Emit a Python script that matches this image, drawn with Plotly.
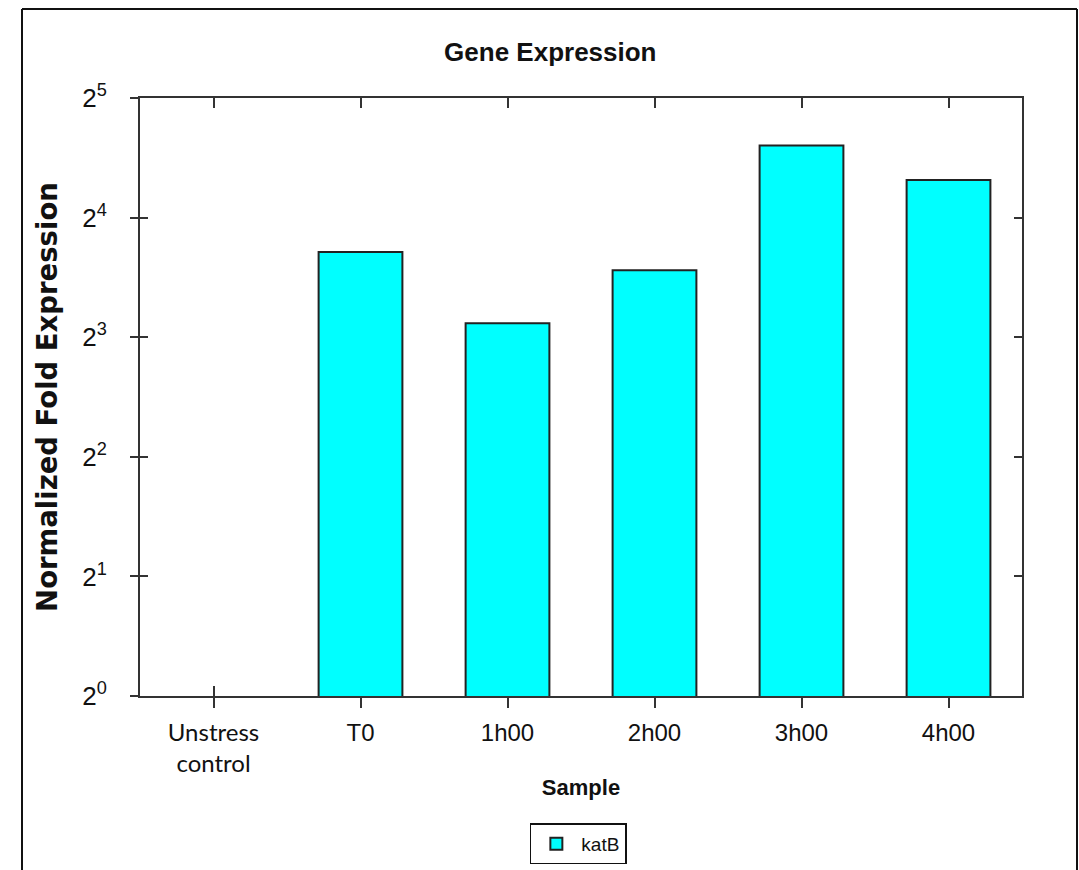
import plotly.graph_objects as go
import math

# Normalized fold expression of katB per sample (log2 scale)
samples = ["Unstress control", "T0", "1h00", "2h00", "3h00", "4h00"]
fold_expression = [1.0, 13.1, 8.67, 11.8, 24.3, 19.9]
sample_labels = [
    "<span style='font-family:Lato;font-size:24px'>Unstress</span><br>"
    "<span style='font-family:Lato;font-size:24px'>control</span>",
    "T0", "1h00", "2h00", "3h00", "4h00",
]
y_tickvals = [1, 2, 4, 8, 16, 32]
y_ticktext = ["2<sup>0</sup>", "2<sup>1</sup>", "2<sup>2</sup>",
              "2<sup>3</sup>", "2<sup>4</sup>", "2<sup>5</sup>"]
series_name = "katB"

W, H = 1079, 870
ML, MR, MT, MB = 140, 57, 98, 174
SANS = "Liberation Sans, Arial, sans-serif"
AXIS_COL = "#333333"
BAR_FILL, BAR_EDGE = "#00FFFF", "#222222"

# a bar sitting on the 2^0 baseline has no height, so it gets no outline
outline_w = [0 if v <= y_tickvals[0] else 2 for v in fold_expression]

fig = go.Figure()
fig.add_trace(go.Bar(
    x=samples, y=fold_expression, name=series_name, width=0.57, showlegend=False,
    marker=dict(color=BAR_FILL, line=dict(color=BAR_EDGE, width=outline_w)),
))
# legend entry for the series (outlined swatch)
fig.add_trace(go.Bar(
    x=[None], y=[None], name=series_name, showlegend=True, hoverinfo="skip",
    marker=dict(color=BAR_FILL, line=dict(color=BAR_EDGE, width=2)),
))

# invisible helpers so the extra tick axes are drawn
idx = list(range(len(samples)))
for xa, ya in [("x2", "y"), ("x3", "y"), ("x", "y2"), ("x", "y3")]:
    fig.add_trace(go.Scatter(x=[None], y=[None], xaxis=xa, yaxis=ya,
                             showlegend=False, hoverinfo="skip"))

yr = [0, math.log10(32)]
xr = [-0.5, len(samples) - 0.5]

fig.update_layout(
    width=W, height=H,
    margin=dict(l=ML, r=MR, t=MT, b=MB, autoexpand=False),
    paper_bgcolor="white", plot_bgcolor="white",
    font=dict(family=SANS, color="#111111"),
    barmode="overlay",
    title=dict(text="<b>Gene Expression</b>", x=0.51, xref="container",
               xanchor="center", y=1 - 52 / H, yref="container", yanchor="middle",
               font=dict(family=SANS, size=26, color="#111111")),
    xaxis=dict(type="category", range=xr, tickvals=samples, ticktext=sample_labels,
               ticks="outside", ticklen=10, tickwidth=2, tickcolor=AXIS_COL,
               showline=True, linecolor=AXIS_COL, linewidth=2, showgrid=False,
               automargin=False, layer="above traces",
               tickfont=dict(family=SANS, size=24, color="#111111"),
               ticklabelstandoff=4,
               title=dict(text="<b>Sample</b>", standoff=4,
                          font=dict(family=SANS, size=22, color="#111111"))),
    xaxis2=dict(overlaying="x", side="top", anchor="y", range=xr, tickvals=idx,
                ticks="inside", ticklen=10, tickwidth=2, tickcolor=AXIS_COL,
                showline=True, linecolor=AXIS_COL, linewidth=2, automargin=False,
                showticklabels=False, showgrid=False, zeroline=False),
    xaxis3=dict(overlaying="x", side="bottom", anchor="y", range=xr, tickvals=[0],
                ticks="inside", ticklen=10, tickwidth=2, tickcolor=AXIS_COL,
                showline=False, showticklabels=False, showgrid=False,
                zeroline=False, automargin=False),
    yaxis=dict(type="log", range=yr, tickvals=y_tickvals, ticktext=y_ticktext,
               ticks="outside", ticklen=8, tickwidth=2, tickcolor=AXIS_COL,
               showline=True, linecolor=AXIS_COL, linewidth=2, showgrid=False,
               automargin=False,
               tickfont=dict(family=SANS, size=26, color="#111111"),
               ticklabelstandoff=18,
               title=dict(text="<b>Normalized Fold Expression</b>", standoff=17,
                          font=dict(family="DejaVu Sans", size=27.5, color="#111111"))),
    yaxis2=dict(type="log", overlaying="y", side="right", anchor="x", range=yr,
                tickvals=y_tickvals, ticks="inside", ticklen=8, tickwidth=2,
                tickcolor=AXIS_COL, showline=True, linecolor=AXIS_COL, linewidth=2,
                showticklabels=False, showgrid=False, automargin=False),
    yaxis3=dict(type="log", overlaying="y", side="left", anchor="x", range=yr,
                tickvals=y_tickvals, ticks="inside", ticklen=8, tickwidth=2,
                tickcolor=AXIS_COL, showline=False, showticklabels=False,
                showgrid=False, automargin=False),
    showlegend=True,
    legend=dict(orientation="h", x=0.497, xanchor="center", y=-0.213, yanchor="top",
                bordercolor="#111111", borderwidth=1.5, bgcolor="white",
                font=dict(family=SANS, size=19, color="#111111"),
                itemwidth=40),
)

# outer frame around the figure (open at the bottom)
pw, ph = W - ML - MR, H - MT - MB
def px_x(p):
    return (p - ML) / pw
def px_y(p):
    return (H - MB - p) / ph
frame = dict(type="line", xref="paper", yref="paper",
             line=dict(color="#111111", width=2))
fig.add_shape(**frame, x0=px_x(22), x1=px_x(1077), y0=px_y(9), y1=px_y(9))
fig.add_shape(**frame, x0=px_x(22), x1=px_x(22), y0=px_y(9), y1=px_y(880))
fig.add_shape(**frame, x0=px_x(1077), x1=px_x(1077), y0=px_y(9), y1=px_y(880))

fig.write_html("out.html")
